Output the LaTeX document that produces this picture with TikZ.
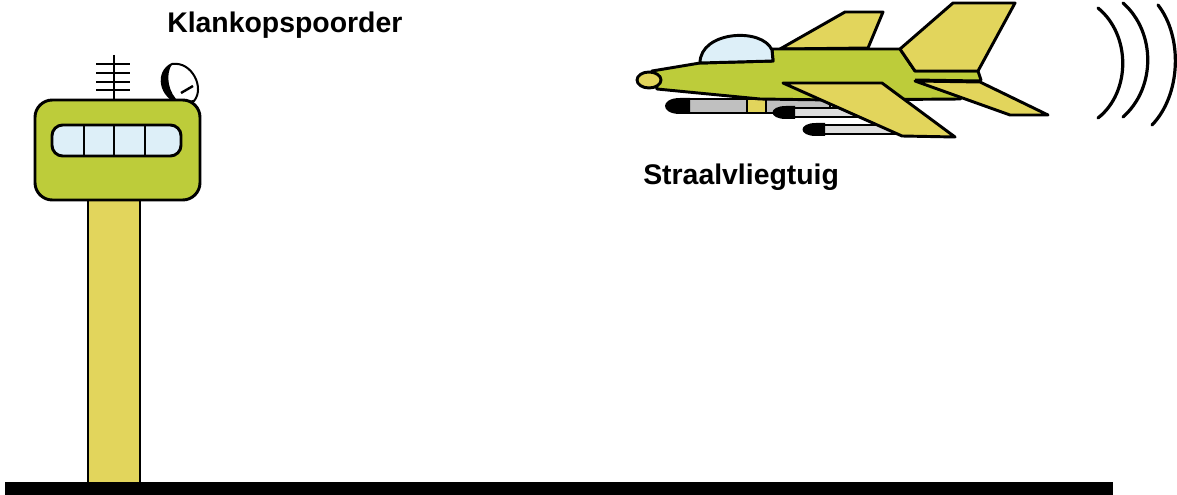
\documentclass[tikz,border=0pt]{standalone}
\usepackage{fontspec}
\setmainfont{Liberation Sans}
\begin{document}
\definecolor{olive}{RGB}{189,204,58}
\definecolor{straw}{RGB}{226,213,92}
\definecolor{glass}{RGB}{221,239,248}
\definecolor{metal}{RGB}{192,192,192}
\definecolor{palemetal}{RGB}{222,222,222}
\begin{tikzpicture}[x=0.75pt,y=-0.75pt,
  outline/.style={draw=black,line width=2.2pt,line join=round},
  thin/.style={draw=black,line width=1.5pt,line join=round},
  label/.style={font=\bfseries\fontsize{21.3pt}{24pt}\selectfont,inner sep=0pt},
  wave/.style={draw=black,line width=2.4pt,line cap=round}]
\useasboundingbox (0,0) rectangle (1177,495);

% ---------- ground ----------
\fill[black] (5,482) rectangle (1113,495);

% ---------- tower ----------
\path[thin,fill=straw] (88,198) rectangle (140,483);
% antenna mast
\draw[black,line width=1.8pt] (114,55) -- (114,101);
\foreach \yy in {64,73,82,90}
  \draw[black,line width=1.8pt] (96,\yy) -- (130,\yy);
% dish
\path[thin,fill=white] (172,64) .. controls (192,61) and (205,88) .. (194,101)
  -- (180,103) .. controls (160,98) and (155,72) .. cycle;
\fill[black] (172,64) .. controls (155,72) and (160,98) .. (180,103)
  .. controls (168,93) and (165,75) .. cycle;
\draw[black,line width=1.8pt] (181,93) -- (193,86);
% control cabin
\path[outline,fill=olive,rounded corners=13pt] (35,100) rectangle (200,200);
\path[outline,fill=glass,rounded corners=8pt] (52,125) rectangle (181,156);
\foreach \xx in {84,114,145}
  \draw[black,line width=1.8pt] (\xx,125) -- (\xx,155);

\node[label,anchor=base west] (towerlabel) at (167,33) {Klankopspoorder};

% ---------- jet ----------
% missiles
\path[thin,fill=metal] (688,99) rectangle (830,113);
\path[thin,fill=straw] (747,99) rectangle (766,113);
\fill[black] (690,98) -- (680,98) .. controls (660,98) and (660,114) .. (680,114) -- (690,114) -- cycle;
\path[thin,fill=palemetal] (793,108) rectangle (860,117);
\fill[black] (795,106) -- (786,106) .. controls (768,106) and (768,119) .. (786,119) -- (795,119) -- cycle;
\path[thin,fill=palemetal] (823,125) rectangle (905,134);
\fill[black] (825,123) -- (816,123) .. controls (798,123) and (798,136) .. (816,136) -- (825,136) -- cycle;

% front dorsal fin
\path[outline,fill=straw] (780,49) -- (845,12) -- (883,12) -- (868,48) -- cycle;
% fuselage
\path[outline,fill=olive] (652,71) -- (700,63) -- (773,61) -- (772,49) -- (900,49)
  -- (915,71) -- (978,71) -- (981,80) -- (960,99) -- (830,100) -- (760,99)
  -- (657,89) -- cycle;
% canopy
\path[outline,fill=glass] (700,63) .. controls (700,31) and (762,27) .. (772,50)
  -- (773,61) -- cycle;
% tail fin
\path[outline,fill=straw] (900,49) -- (953,3) -- (1015,3) -- (978,71) -- (915,71) -- cycle;
% strip above tailplane
\draw[black,line width=2.2pt] (915,80) -- (981,81);
% tailplane
\path[outline,fill=straw] (915,81) -- (980,82) -- (1048,115) -- (1010,115) -- cycle;
% main wing
\path[outline,fill=straw] (783,83) -- (882,83) -- (955,137) -- (902,136) -- cycle;
% nose cone
\path[outline,fill=straw] (649,80) ellipse [x radius=12,y radius=8];

\node[label,anchor=base west] (jetlabel) at (643,185) {Straalvliegtuig};

% ---------- radar waves ----------
\draw[wave] (1098,8) .. controls (1131,35) and (1131,92) .. (1098,118);
\draw[wave] (1123,3) .. controls (1156,32) and (1156,88) .. (1123,117);
\draw[wave] (1158,5) .. controls (1183,37) and (1181,95) .. (1152,125);
\end{tikzpicture}
\end{document}
